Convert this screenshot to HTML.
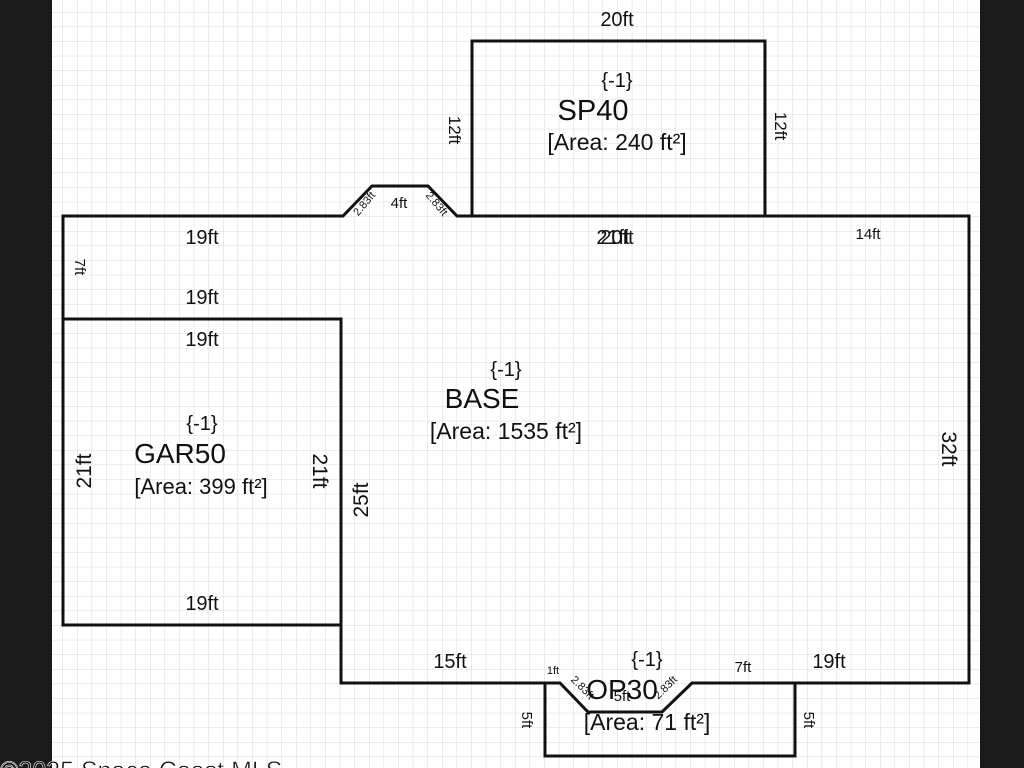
<!DOCTYPE html>
<html><head><meta charset="utf-8"><style>
html,body{margin:0;padding:0;width:1024px;height:768px;overflow:hidden;background:#fff}
svg{display:block}
text{font-family:"Liberation Sans",Arial,sans-serif;fill:#111}
</style></head><body>
<svg width="1024" height="768" viewBox="0 0 1024 768" xmlns="http://www.w3.org/2000/svg">
<defs>
<pattern id="g" x="4" y="12" width="14.6" height="14.6" patternUnits="userSpaceOnUse">
<path d="M0 0H14.6M0 0V14.6" stroke="#d8d8dc" stroke-width="1" fill="none"/>
</pattern>
</defs>
<rect x="52" y="0" width="928" height="768" fill="url(#g)"/>
<rect x="0" y="0" width="52" height="768" fill="#1a1a1a"/>
<rect x="980" y="0" width="44" height="768" fill="#1a1a1a"/>
<g stroke="#111" stroke-width="3" fill="none" stroke-linejoin="miter">
<rect x="472" y="41" width="293" height="175"/>
<path d="M63 625 V216 H343 L372 186 H428 L457 216 H969 V683 H692 L662 712 H588 L560 683 H341 V319"/>
<rect x="63" y="319" width="278" height="306"/>
<path d="M545 683 V756 H795 V683"/>
</g>
<g font-size="20" text-anchor="middle">
<text x="617" y="26">20ft</text>
<text x="617" y="87">{-1}</text>
<text x="593" y="120" font-size="29">SP40</text>
<text x="617" y="150" font-size="23">[Area: 240 ft²]</text>
<text x="202" y="244">19ft</text>
<text x="202" y="304">19ft</text>
<text x="202" y="346">19ft</text>
<text x="613" y="244">21ft</text>
<text x="617" y="244">20ft</text>
<text x="868" y="239" font-size="15">14ft</text>
<text x="399" y="208" font-size="15">4ft</text>
<text x="506" y="376">{-1}</text>
<text x="482" y="408" font-size="28">BASE</text>
<text x="506" y="439" font-size="23">[Area: 1535 ft²]</text>
<text x="202" y="430">{-1}</text>
<text x="180" y="463" font-size="28">GAR50</text>
<text x="201" y="494" font-size="22">[Area: 399 ft²]</text>
<text x="202" y="610">19ft</text>
<text x="450" y="668">15ft</text>
<text x="829" y="668">19ft</text>
<text x="743" y="672" font-size="15">7ft</text>
<text x="553" y="674" font-size="11">1ft</text>
<text x="647" y="666">{-1}</text>
<text x="622" y="699" font-size="28">OP30</text>
<text x="622" y="701" font-size="15">5ft</text>
<text x="647" y="730" font-size="23">[Area: 71 ft²]</text>
</g>
<g font-size="17" text-anchor="middle">
<text transform="translate(449,130) rotate(90)">12ft</text>
<text transform="translate(775,126) rotate(90)">12ft</text>
<text transform="translate(75,267) rotate(90)" font-size="15">7ft</text>
<text transform="translate(91,471) rotate(-90)" font-size="21">21ft</text>
<text transform="translate(313,471) rotate(90)" font-size="21">21ft</text>
<text transform="translate(368,500) rotate(-90)" font-size="21">25ft</text>
<text transform="translate(942,449) rotate(90)" font-size="21">32ft</text>
<text transform="translate(522,720) rotate(90)" font-size="15">5ft</text>
<text transform="translate(804,720) rotate(90)" font-size="15">5ft</text>
<text transform="translate(367,206) rotate(-50)" font-size="11">2.83ft</text>
<text transform="translate(434,206) rotate(50)" font-size="11">2.83ft</text>
<text transform="translate(580,690) rotate(45)" font-size="11">2.83ft</text>
<text transform="translate(668,690) rotate(-45)" font-size="11">2.83ft</text>
</g>
<text x="0" y="779" font-size="25" fill="#222" stroke="#fff" stroke-width="0.6">©2025 Space Coast MLS</text>
</svg>
</body></html>
